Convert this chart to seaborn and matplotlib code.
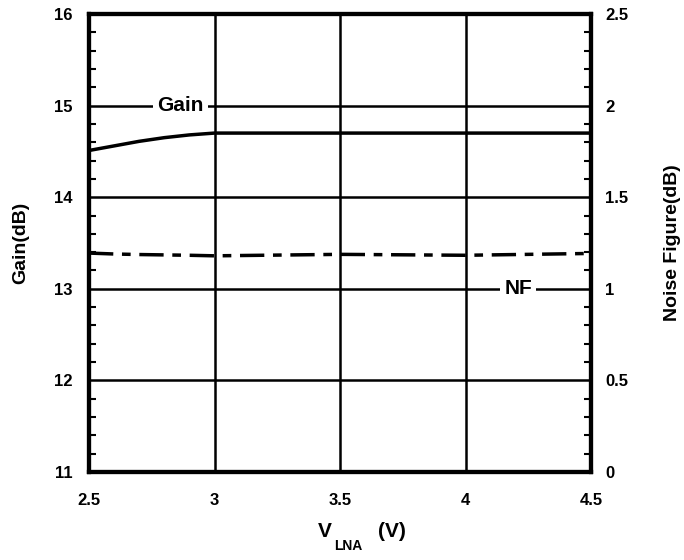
import numpy as np
import pandas as pd
import matplotlib
matplotlib.use("Agg")
import matplotlib.pyplot as plt
from matplotlib.ticker import MultipleLocator
import seaborn as sns

# Data
v_lna = [2.5, 2.6, 2.7, 2.8, 2.9, 3.0, 3.5, 4.0, 4.5]
gain_db = [14.51, 14.56, 14.61, 14.65, 14.68, 14.70, 14.70, 14.70, 14.70]
nf_db = [1.195, 1.19, 1.187, 1.185, 1.183, 1.18, 1.188, 1.183, 1.193]

sns.set_theme(style="white")
plt.rcParams['font.family'] = ['Liberation Sans', 'DejaVu Sans']
plt.rcParams['font.weight'] = 'bold'
plt.rcParams['text.color'] = 'black'
plt.rcParams['axes.labelcolor'] = 'black'
plt.rcParams['xtick.color'] = 'black'
plt.rcParams['ytick.color'] = 'black'

fig = plt.figure(figsize=(6.84, 5.60), dpi=100)
ax = fig.add_axes([89/684, 1-472/560, (591-89)/684, (472-14)/560])
ax2 = ax.twinx()

df = pd.DataFrame({"V": v_lna, "Gain": gain_db, "NF": nf_db})
sns.lineplot(data=df, x="V", y="Gain", ax=ax, color="black", lw=2.5)
sns.lineplot(data=df, x="V", y="NF", ax=ax2, color="black", lw=2.5)
ax2.lines[0].set_dashes([7, 2.5, 2.5, 2.5])

ax.set_xlim(2.5, 4.5)
ax.set_ylim(11, 16)
ax2.set_ylim(0, 2.5)

ax.xaxis.set_minor_locator(MultipleLocator(0.1))
ax.yaxis.set_minor_locator(MultipleLocator(0.2))
ax2.yaxis.set_minor_locator(MultipleLocator(0.1))

ax.set_xticks([2.5, 3, 3.5, 4, 4.5])
ax.set_xticklabels(["2.5", "3", "3.5", "4", "4.5"])
ax.set_yticks([11, 12, 13, 14, 15, 16])
ax.set_yticklabels(["11", "12", "13", "14", "15", "16"])
ax2.set_yticks([0, 0.5, 1, 1.5, 2, 2.5])
ax2.set_yticklabels(["0", "0.5", "1", "1.5", "2", "2.5"])

ax.grid(True, which="major", color="black", lw=1.8)
ax.set_axisbelow(True)

for a in (ax, ax2):
    for s in a.spines.values():
        s.set_color("black")
        s.set_linewidth(3)
ax.tick_params(which="both", direction="in", color="black", width=1.5)
ax.tick_params(which="major", length=0, labelsize=12)
ax.tick_params(axis="y", which="major", pad=12)
ax.tick_params(axis="x", which="major", pad=15)
ax.tick_params(which="minor", length=5)
ax.tick_params(axis="both", which="both", top=False, right=False)
ax2.tick_params(which="both", direction="in", color="black", width=1.5)
ax2.tick_params(which="major", length=0, labelsize=12, pad=10)
ax2.tick_params(which="minor", length=5)
for lab in ax.get_xticklabels() + ax.get_yticklabels() + ax2.get_yticklabels():
    lab.set_fontweight("bold")

ax.set_xlabel("")
ax.set_ylabel("Gain(dB)", fontsize=14, fontweight="bold", labelpad=18)
ax2.set_ylabel("Noise Figure(dB)", fontsize=14, fontweight="bold", labelpad=26)
xc = 0.5 * (89 + 591) / 684
fig.text(xc - 0.012, 1 - 537/560, "V", fontsize=15, fontweight="bold", ha="right", va="baseline")
fig.text(xc - 0.009, 1 - 550/560, "LNA", fontsize=10, fontweight="bold", ha="left", va="baseline")
fig.text(xc + 0.055, 1 - 537/560, "(V)", fontsize=15, fontweight="bold", ha="left", va="baseline")

ax.text(2.865, 15.0, "Gain", fontsize=15, fontweight="bold", ha="center", va="center",
        bbox=dict(facecolor="white", edgecolor="none", pad=3))
ax.text(4.21, 13.0, "NF", fontsize=15, fontweight="bold", ha="center", va="center",
        bbox=dict(facecolor="white", edgecolor="none", pad=3))

ax2.set_zorder(ax.zorder + 1)
ax2.patch.set_visible(False)

fig.savefig("out.png", dpi=100)
